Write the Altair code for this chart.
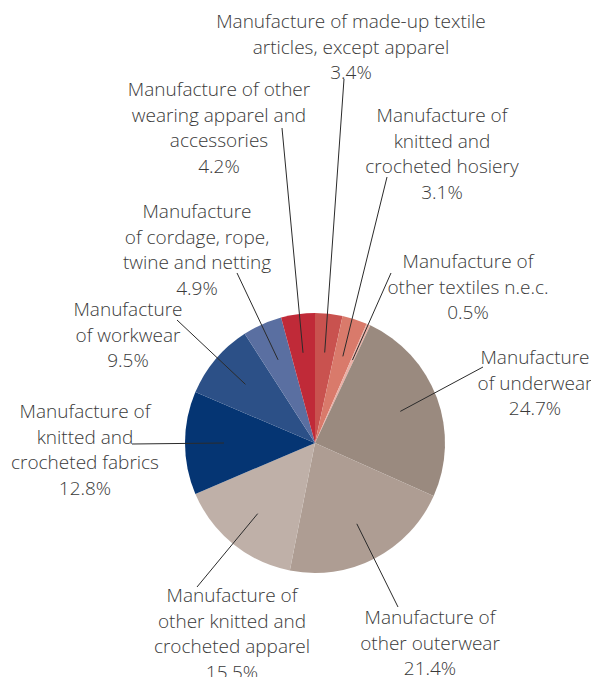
import math
import altair as alt
import pandas as pd

# Data (clockwise from 12 o'clock)
categories = [
    "Manufacture of made-up textile\narticles, except apparel",
    "Manufacture of\nknitted and\ncrocheted hosiery",
    "Manufacture of\nother textiles n.e.c.",
    "Manufacture\nof underwear",
    "Manufacture of\nother outerwear",
    "Manufacture of\nother knitted and\ncrocheted apparel",
    "Manufacture of\nknitted and\ncrocheted fabrics",
    "Manufacture\nof workwear",
    "Manufacture\nof cordage, rope,\ntwine and netting",
    "Manufacture of other\nwearing apparel and\naccessories",
]
values = [3.4, 3.1, 0.5, 24.7, 21.4, 15.5, 12.8, 9.5, 4.9, 4.2]
colors = ["#c9524f", "#d97a6b", "#eab0a6", "#9a8a7f", "#ae9d93",
          "#bfb0a8", "#053573", "#2c5087", "#5a6fa1", "#c02a38"]

# Layout (chart coordinates, page minus 8px margin)
W, H = 583, 669
CX, CY, R = 307, 435, 130
R_INNER_LEADER = 91
label_x = [343, 434, 460, 527, 422, 224, 77, 120, 189, 211]
label_y = [13, 107, 253, 349, 609, 587, 403, 301, 203, 81]   # first line centre
leader_end_x = [336, 379, 383, 475, 390, 189, 124, 169, 229, 274]
leader_end_y = [71, 169, 265, 359, 599, 579, 436, 312, 265, 120]

LINE_H = 25.5
FONT_SIZE = 19

rows = []
cum = 0.0
for i, (c, v, col) in enumerate(zip(categories, values, colors)):
    mid = (cum + v / 2) / 100 * 2 * math.pi
    cum += v
    rows.append({
        "idx": i,
        "cat": c,
        "value": v,
        "color": col,
        "label": c + "\n" + f"{v}%",
        "lx": label_x[i],
        "ly": label_y[i] - 8,
        "x1": CX + R_INNER_LEADER * math.sin(mid),
        "y1": CY - R_INNER_LEADER * math.cos(mid),
        "x2": leader_end_x[i],
        "y2": leader_end_y[i],
    })
df = pd.DataFrame(rows)

xs = alt.Scale(domain=[0, W], range=[0, W], zero=False, nice=False)
ys = alt.Scale(domain=[0, H], range=[0, H], zero=False, nice=False)

pie = alt.Chart(df).mark_arc(radius=R, stroke=None).encode(
    theta=alt.Theta("value:Q", stack=True),
    order=alt.Order("idx:Q"),
    color=alt.Color("color:N", scale=None),
    x=alt.value(CX),
    y=alt.value(CY),
)

leaders = alt.Chart(df).mark_rule(color="#2b2b2b", strokeWidth=1).encode(
    x=alt.X("x1:Q", scale=xs, axis=None),
    y=alt.Y("y1:Q", scale=ys, axis=None),
    x2="x2:Q",
    y2="y2:Q",
)

labels = alt.Chart(df).mark_text(
    align="center", baseline="top", lineBreak="\n", lineHeight=LINE_H,
    font="Open Sans", fontSize=FONT_SIZE, fontWeight=300, color="#3a3a3a",
).encode(
    x=alt.X("lx:Q", scale=xs, axis=None),
    y=alt.Y("ly:Q", scale=ys, axis=None),
    text="label:N",
)

chart = alt.layer(pie, leaders, labels).properties(
    width=W, height=H, padding=0,
    autosize=alt.AutoSizeParams(type="none"),
).configure_view(stroke=None)

chart.save("out.html", embed_options={"renderer": "svg", "actions": False})
